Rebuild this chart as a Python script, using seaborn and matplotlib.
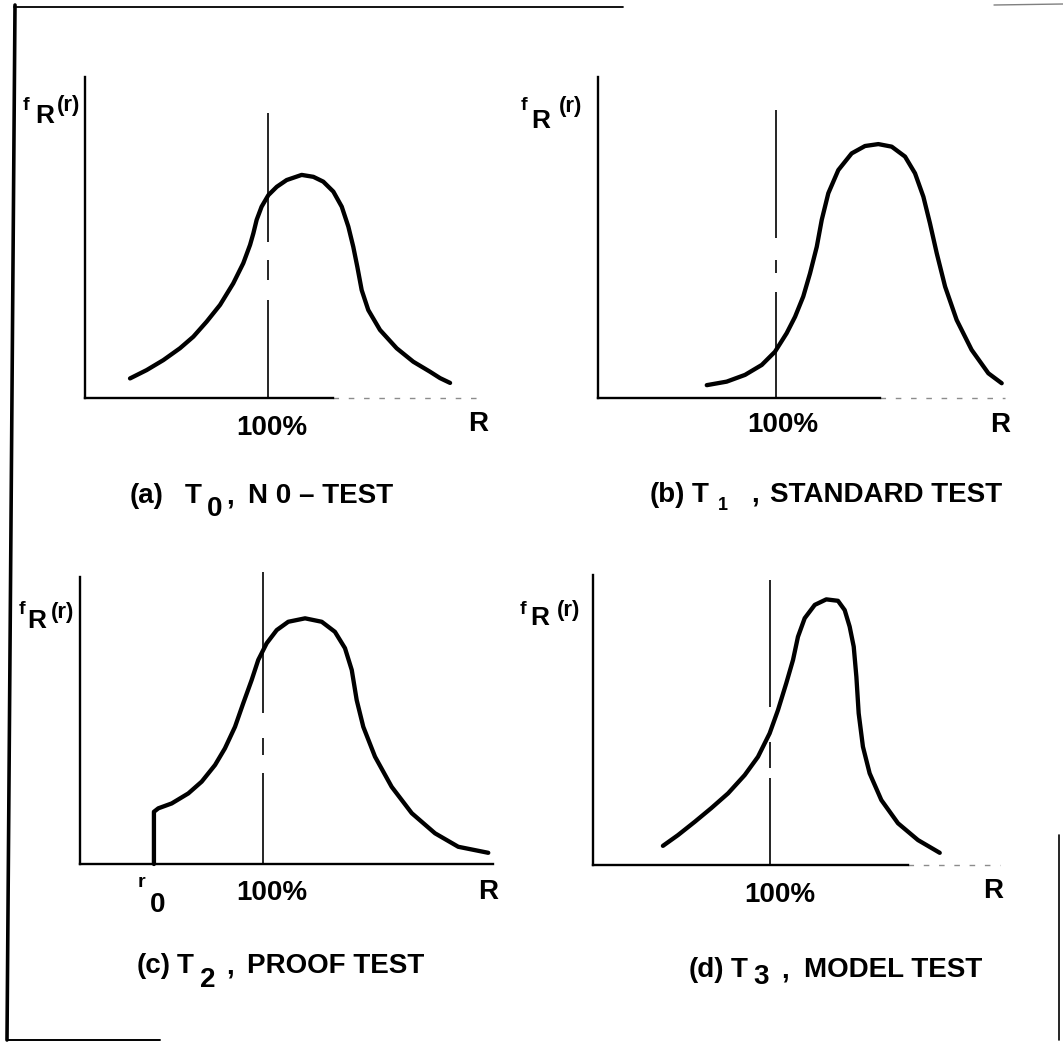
import matplotlib
matplotlib.use('Agg')
import matplotlib.pyplot as plt
import seaborn as sns

# R in % of nominal strength, f_R(r) in % of the drawn axis height
a_r = [24.6, 33.7, 42.8, 51.9, 59.2, 66.5, 73.8, 81.0, 86.5, 90.2, 92.0, 93.8, 96.5,
       100.2, 104.8, 110.2, 118.4, 124.8, 130.2, 135.7, 140.3, 143.9, 146.6, 148.8,
       151.2, 154.8, 161.2, 170.3, 179.4, 188.5, 194.0, 199.5]
a_f = [6.1, 8.7, 11.8, 15.5, 19.1, 23.8, 29.0, 35.7, 42.0, 47.7, 51.3, 55.5, 59.6,
       63.2, 65.8, 67.9, 69.5, 68.9, 67.4, 64.3, 59.6, 53.4, 47.1, 40.9,
       33.6, 27.4, 21.2, 15.5, 11.3, 8.2, 6.2, 4.7]

b_r = [61.1, 72.3, 82.6, 92.0, 99.4, 106.0, 110.7, 115.3, 119.1, 122.9, 125.7, 129.4,
       135.0, 142.5, 150.0, 157.5, 165.0, 172.5, 178.1, 182.8, 186.5, 190.3, 195.0,
       201.5, 209.9, 219.3, 226.8]
b_f = [4.0, 5.1, 7.2, 10.3, 14.4, 20.2, 25.3, 31.6, 38.8, 47.1, 55.5, 63.8,
       71.0, 76.2, 78.5, 79.1, 78.3, 75.2, 70.0, 62.7, 54.4, 45.1, 34.7,
       24.3, 15.0, 7.7, 4.6]

# proof test: nothing survives below r0
c_r = [40.4, 40.4, 42.8, 50.1, 59.2, 66.5, 73.8, 79.2, 84.7, 89.2, 93.8, 97.4, 102.0,
       107.5, 113.8, 123.0, 132.1, 139.3, 144.8, 148.5, 151.2, 154.8, 161.2, 170.3,
       181.3, 194.0, 206.7, 223.1]
c_f = [0.0, 18.2, 19.4, 21.1, 24.6, 28.7, 34.5, 40.3, 47.8, 56.0, 64.1, 71.1, 76.9,
       81.5, 84.4, 85.6, 84.4, 80.9, 75.2, 67.6, 57.1, 47.8, 37.4, 26.9,
       17.7, 10.7, 6.0, 3.9]

d_r = [39.5, 48.0, 57.5, 66.8, 76.3, 85.7, 93.2, 99.8, 104.5, 109.2, 113.0, 115.8,
       119.6, 125.3, 131.8, 138.4, 142.2, 145.0, 147.3, 148.8, 150.1, 152.5, 156.3,
       162.9, 172.3, 183.6, 195.9]
d_f = [6.6, 10.3, 14.9, 19.6, 24.7, 31.0, 37.3, 45.4, 53.4, 62.7, 70.7, 78.7,
       85.1, 89.7, 91.6, 91.1, 87.9, 82.2, 75.3, 64.9, 52.3, 40.8, 31.6,
       22.4, 14.4, 8.6, 4.2]

# pieces of the broken 100 % line (f from, f to)
ref_a = [(0, 30.5), (36.8, 43.0), (48.6, 88.8)]
ref_b = [(0, 33.0), (38.9, 43.0), (49.8, 89.7)]
ref_c = [(0, 31.7), (38.0, 43.9), (52.6, 101.7)]
ref_d = [(0, 30.0), (33.4, 42.4), (54.5, 98.3)]

tags = ['(a)', '(b)', '(c)', '(d)']
subs = ['0', '1', '2', '3']
tests = ['N 0 \u2013 TEST', 'STANDARD TEST', 'PROOF TEST', 'MODEL TEST']

W, H = 1063, 1043
sns.set_theme(style='white')
plt.rcParams['font.family'] = ['Liberation Sans', 'DejaVu Sans']

fig = plt.figure(figsize=(W / 100, H / 100), dpi=100)
fig.patch.set_facecolor('white')
page = fig.add_axes([0, 0, 1, 1], zorder=0)
page.set_xlim(0, W)
page.set_ylim(H, 0)
page.axis('off')

# frame of each panel in page pixels:
# origin x, baseline y, axis top y, x of 100 %, right end, end of solid baseline
frames = {
    'a': (85, 398, 77, 268, 480, 333),
    'b': (598, 398, 77, 776, 1005, 880),
    'c': (80, 864, 577, 263, 495, 493),
    'd': (593, 865, 575, 770, 1000, 908),
}


def panel(key, r, f, ref):
    x0, y0, top, x100, right, solid = frames[key]
    ax = fig.add_axes([x0 / W, 1 - y0 / H, (right - x0) / W, (y0 - top) / H], zorder=1)
    ax.patch.set_alpha(0)
    per = (x100 - x0) / 100
    xmax = (right - x0) / per
    sns.lineplot(x=r, y=f, sort=False, estimator=None, color='black', lw=3.1,
                 ax=ax, clip_on=False, solid_joinstyle='round', solid_capstyle='round')
    for lo, hi in ref:
        ax.vlines(100, lo, hi, color='black', lw=1.2, clip_on=False)
    ax.set_xlim(0, xmax)
    ax.set_ylim(0, 100)
    sns.despine(ax=ax)
    for side in ['left', 'bottom']:
        ax.spines[side].set_color('black')
        ax.spines[side].set_linewidth(1.7)
    ax.spines['bottom'].set_bounds(0, (solid - x0) / per)
    if solid < right - 5:
        ax.hlines(0, (solid - x0) / per, xmax, color='0.55', lw=1.0,
                  linestyles=(0, (4, 7)), clip_on=False)
    ax.set_xticks([])
    ax.set_yticks([])
    ax.set_xlabel('')
    ax.set_ylabel('')
    return ax


panel('a', a_r, a_f, ref_a)
panel('b', b_r, b_f, ref_b)
panel('c', c_r, c_f, ref_c)
panel('d', d_r, d_f, ref_d)


def put(x, y, s, size=20, ha='left'):
    page.text(x, y, s, fontsize=size, fontweight='bold', ha=ha, va='baseline',
              color='black')


# y-axis labels f_R(r)
for fx, fy, rx, ry, px, py in [(23, 110, 35, 123, 57, 111),
                               (521, 110, 531, 128, 559, 112),
                               (19, 614, 27, 628, 51, 618),
                               (520, 614, 530, 625, 557, 616)]:
    put(fx, fy, 'f', 14)
    put(rx, ry, 'R', 19)
    put(px, py, '(r)', 16)

# x-axis labels
for cx, by, rx, rby in [(272, 435, 478, 431), (783, 432, 1000, 432),
                        (272, 900, 488, 899), (780, 902, 993, 898)]:
    put(cx, by, '100%', 20, 'center')
    put(rx, rby, 'R', 20, 'center')
put(138, 887, 'r', 14)
put(150, 912, '0', 20)

# captions
cap = [(130, 185, 207, 226, 248, 503, 516, 20),
       (650, 692, 718, 751, 770, 502, 510, 13),
       (137, 177, 200, 226, 247, 973, 987, 20),
       (689, 731, 753, 781, 804, 977, 984, 20)]
for i, (xt, xT, xs, xc, xw, base, sbase, ssize) in enumerate(cap):
    put(xt, base, tags[i])
    put(xT, base, 'T')
    put(xs, sbase, subs[i], ssize)
    put(xc, base, ',')
    put(xw, base, tests[i])

# scanned page frame
page.plot([15, 7], [5, 1040], color='black', lw=2.6)
page.plot([14, 623], [7, 7], color='black', lw=1.3)
page.plot([994, 1063], [5, 4], color='0.5', lw=1.0)
page.plot([7, 160], [1040, 1040], color='black', lw=1.4)
page.plot([1059, 1059], [835, 1040], color='black', lw=1.2)

fig.savefig('out.png', dpi=100, facecolor='white')
